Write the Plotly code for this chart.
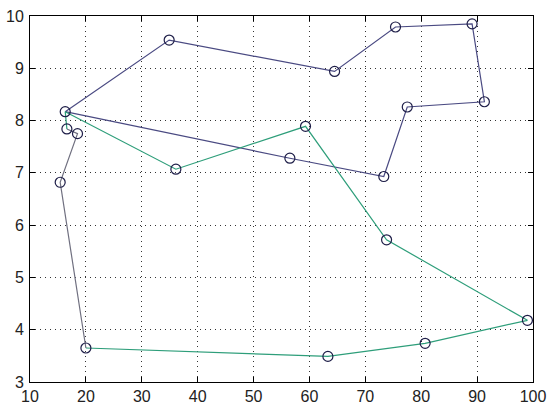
import plotly.graph_objects as go

# City coordinates
city_x = [16.3, 16.6, 18.5, 15.4, 20.0, 34.9, 64.5, 75.4, 89.1, 91.3, 77.5, 73.3, 56.5, 59.3, 36.1, 73.8, 99.0, 80.7, 63.3]
city_y = [8.17, 7.84, 7.75, 6.82, 3.65, 9.54, 8.94, 9.79, 9.85, 8.36, 8.26, 6.93, 7.28, 7.89, 7.07, 5.72, 4.18, 3.74, 3.49]

# Route pieces as city index sequences
blue_route = [0, 5, 6, 7, 8, 9, 10, 11, 12, 0]
gray_route = [1, 2, 3, 4]
green_route = [4, 18, 17, 16, 15, 13, 14, 0, 1]

fig = go.Figure()

def add_route(idx, color):
    fig.add_trace(go.Scatter(
        x=[city_x[i] for i in idx], y=[city_y[i] for i in idx],
        mode="lines", line=dict(color=color, width=1.2),
        hoverinfo="skip", showlegend=False))

add_route(blue_route, "#4a4a82")
add_route(gray_route, "#707080")
add_route(green_route, "#2e9e7a")

fig.add_trace(go.Scatter(
    x=city_x, y=city_y, mode="markers",
    marker=dict(symbol="circle-open", size=10, color="#1e1e48", line=dict(width=1.2)),
    showlegend=False))

axis_common = dict(
    showline=True, linecolor="black", linewidth=1, mirror="ticks",
    ticks="inside", ticklen=5, tickcolor="black",
    showgrid=True, gridcolor="#333333", gridwidth=1, griddash="1px,4px",
    zeroline=False, automargin=False, ticklabeloverflow="allow",
    tickfont=dict(family="Liberation Sans, Arial", size=16, color="#222222"),
)

fig.update_xaxes(range=[10, 100], tickvals=[10, 20, 30, 40, 50, 60, 70, 80, 90, 100], **axis_common)
fig.update_yaxes(range=[3, 10], tickvals=[3, 4, 5, 6, 7, 8, 9, 10], ticklabelstandoff=2, **axis_common)

fig.update_layout(
    width=550, height=409,
    margin=dict(l=30, r=17, t=16, b=27),
    paper_bgcolor="white", plot_bgcolor="white",
)

# remove the page body's default 8px margin so the figure fills the window
fig.write_html("out.html", config={"displayModeBar": False},
               post_script="document.body.style.margin='0';")
